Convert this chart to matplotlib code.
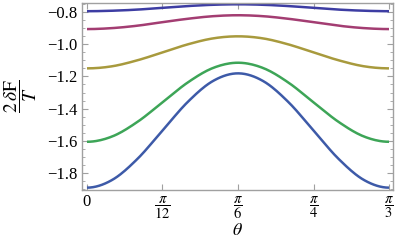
import numpy as np
import matplotlib
matplotlib.use('Agg')
import matplotlib.pyplot as plt
from matplotlib.ticker import MultipleLocator

plt.rcParams['font.family'] = ['Liberation Serif', 'DejaVu Serif']
plt.rcParams['mathtext.fontset'] = 'stix'

# theta samples (units of pi/36)
theta_steps = [0, 1, 2, 3, 4, 5, 6, 7, 8, 9, 10, 11, 12]

# curves, bottom to top
blue = [-1.891, -1.843, -1.713, -1.536, -1.359, -1.229, -1.181, -1.229, -1.359, -1.536, -1.713, -1.843, -1.891]
green = [-1.606, -1.573, -1.483, -1.361, -1.238, -1.148, -1.115, -1.148, -1.238, -1.361, -1.483, -1.573, -1.606]
olive = [-1.150, -1.137, -1.100, -1.051, -1.001, -0.964, -0.951, -0.964, -1.001, -1.051, -1.100, -1.137, -1.150]
purple = [-0.906, -0.900, -0.885, -0.863, -0.842, -0.826, -0.820, -0.826, -0.842, -0.863, -0.885, -0.900, -0.906]
navy = [-0.795, -0.792, -0.785, -0.774, -0.763, -0.755, -0.752, -0.755, -0.763, -0.774, -0.785, -0.792, -0.795]

series = [
    (blue, '#3d5aa8'),
    (green, '#3da557'),
    (olive, '#a89a3d'),
    (purple, '#a33d72'),
    (navy, '#3d3da3'),
]

x_ticks = [0, np.pi / 12, np.pi / 6, np.pi / 4, np.pi / 3]
x_labels = ['0', r'$\dfrac{\pi}{12}$', r'$\dfrac{\pi}{6}$', r'$\dfrac{\pi}{4}$', r'$\dfrac{\pi}{3}$']
y_ticks = [-1.8, -1.6, -1.4, -1.2, -1.0, -0.8]


def smooth(xs, ys, n=200):
    # cubic Hermite through the read points, just for drawing a smooth line
    xs = np.asarray(xs)
    ys = np.asarray(ys)
    d = np.gradient(ys, xs)
    d[0] = 0.0
    d[-1] = 0.0
    xf = np.linspace(xs[0], xs[-1], n)
    idx = np.clip(np.searchsorted(xs, xf) - 1, 0, len(xs) - 2)
    h = xs[idx + 1] - xs[idx]
    t = (xf - xs[idx]) / h
    h00 = 2 * t**3 - 3 * t**2 + 1
    h10 = t**3 - 2 * t**2 + t
    h01 = -2 * t**3 + 3 * t**2
    h11 = t**3 - t**2
    yf = h00 * ys[idx] + h10 * h * d[idx] + h01 * ys[idx + 1] + h11 * h * d[idx + 1]
    return xf, yf


theta = np.array(theta_steps) * np.pi / 36

fig = plt.figure(figsize=(3.95, 2.4), dpi=100)
ax = fig.add_axes([0.2076, 0.2083, 0.7874, 0.7792])

for vals, col in series:
    xf, yf = smooth(theta, vals)
    ax.plot(xf, yf, color=col, linewidth=1.8, solid_capstyle='butt')

ax.set_xlim(-0.0173, 1.0611)
ax.set_ylim(-1.9056, -0.744)

ax.set_xticks(x_ticks)
ax.set_xticklabels(x_labels, fontsize=10.5)
ax.get_xticklabels()[0].set_fontsize(12)
ax.set_yticks(y_ticks)
ax.set_yticklabels(['\u2212%.1f' % abs(v) for v in y_ticks], fontsize=12)
ax.yaxis.set_minor_locator(MultipleLocator(0.05))

for s in ax.spines.values():
    s.set_color('#a0a0a0')
    s.set_linewidth(1.0)

ax.tick_params(axis='both', which='both', direction='in', color='#a0a0a0',
               top=True, right=True, labeltop=False, labelright=False)
ax.tick_params(axis='both', which='major', length=4, width=0.8, pad=3)
ax.tick_params(axis='y', which='minor', length=2, width=0.6)

ax.set_xlabel(r'$\theta$', fontsize=13, labelpad=1)
ax.set_ylabel(r'$\dfrac{2\,\delta\mathrm{F}}{T}$', fontsize=14, labelpad=6)

fig.savefig('out.png', dpi=100)
